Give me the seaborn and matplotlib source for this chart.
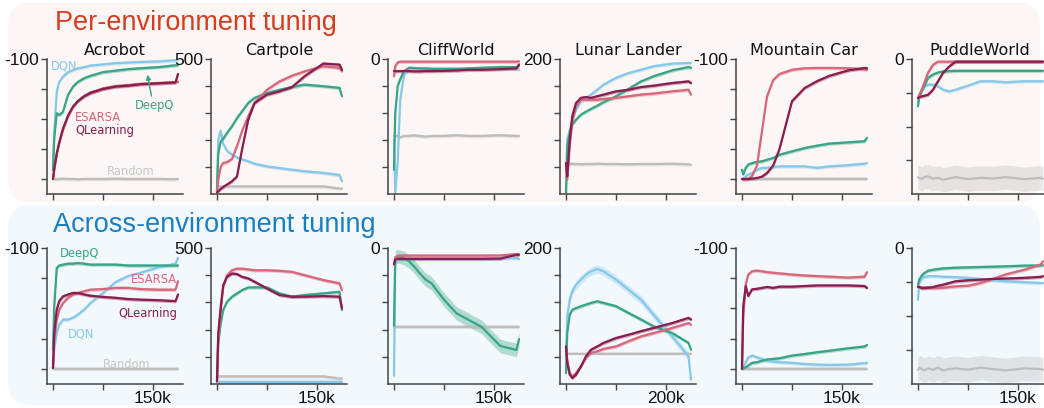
import matplotlib
matplotlib.use("Agg")
import matplotlib.pyplot as plt
from matplotlib.patches import FancyBboxPatch
import numpy as np
import seaborn as sns

FRAC = [0, .01, .03, .05, .08, .12, .16, .20, .25, .30, .40, .50, .60, .70, .85, .98, 1.0]

ENVS = ["Acrobot", "Cartpole", "CliffWorld", "Lunar Lander", "Mountain Car", "PuddleWorld"]
RUN_STEPS = [187500, 187500, 187500, 250000, 187500, 187500]
XTICK_STEP = [75000, 75000, 75000, 100000, 75000, 75000]
XTICK_LABEL = ["150k", "150k", "150k", "200k", "150k", "150k"]
YTICKS = [
    [-500, -400, -300, -200, -100],
    [100, 200, 300, 400, 500],
    [-80, -60, -40, -20, 0],
    [-200, -100, 0, 100, 200],
    [-500, -400, -300, -200, -100],
    [-300, -200, -100, 0],
]
YTOP_LABEL = ["-100", "500", "0", "200", "-100", "0"]
YLIMS = [(-550, -100), (0, 500), (-100, 0), (-300, 200), (-550, -100), (-400, 0)]

METHODS = ["Random", "DQN", "DeepQ", "ESARSA", "QLearning"]
COLORS = {
    "Random": "#bdbdbd",
    "DQN": "#86c8e8",
    "DeepQ": "#37a486",
    "ESARSA": "#d8667b",
    "QLearning": "#8a1c4e",
}

# ---- per-environment tuning ----
PER_ACROBOT = {
    "DQN": [-464, -342, -209, -176, -159, -144, -137, -131, -127, -122, -118, -114, -112, -110, -108, -104, -102],
    "DeepQ": [-470, -364, -281, -287, -276, -220, -192, -176, -164, -156, -144, -139, -134, -131, -127, -121, -120],
    "ESARSA": [-500, -470, -420, -381, -337, -292, -259, -240, -223, -212, -198, -190, -187, -183, -180, -177, -176],
    "QLearning": [-500, -466, -414, -378, -332, -289, -259, -240, -224, -213, -200, -192, -189, -184, -181, -178, -150],
    "Random": [-500, -501, -500, -500, -499, -500, -500, -501, -500, -500, -500, -499, -500, -500, -500, -501, -500],
}
PER_CARTPOLE = {
    "DQN": [10, 200, 235, 185, 160, 145, 135, 128, 121, 112, 102, 96, 90, 84, 78, 70, 47],
    "DeepQ": [16, 150, 195, 205, 226, 251, 281, 306, 337, 356, 374, 386, 396, 405, 399, 393, 362],
    "ESARSA": [6, 53, 102, 115, 118, 130, 177, 232, 288, 337, 386, 417, 438, 454, 473, 467, 454],
    "QLearning": [6, 10, 19, 26, 35, 47, 65, 164, 275, 337, 368, 380, 396, 436, 483, 479, 460],
    "Random": [28, 28, 28, 28, 28, 28, 28, 28, 28, 28, 28, 28, 28, 28, 28, 20, 20],
}
PER_CLIFF = {
    "DQN": [-60, -100, -75, -30, -12, -7, -7, -7, -7, -7, -7, -7, -7, -7, -7, -7, -8],
    "DeepQ": [-82, -40, -20, -15, -9, -6.5, -6.7, -7, -7, -7.5, -7.5, -7.5, -7, -6.5, -6, -6, -5],
    "ESARSA": [-12.8, -5.4, -2.5, -2, -2, -2, -2, -2, -2, -2, -2, -2, -2, -2, -2, -2, -1.7],
    "QLearning": [-9, -9, -9, -9, -9, -9, -9.2, -9.2, -9, -9, -8.8, -8.5, -8, -8, -7.5, -7, -4],
    "Random": [-57, -57, -57, -58, -57, -57, -56.5, -57, -57.5, -57, -57, -56.5, -57, -57, -56.5, -57, -57],
}
PER_LUNAR = {
    "DQN": [-296, -99, -62, -25, 12, 43, 56, 68, 86, 105, 130, 148, 160, 173, 183, 185, 185],
    "DeepQ": [-296, -123, -74, -43, -25, -6, 5, 15, 27, 40, 62, 89, 117, 136, 158, 170, 167],
    "ESARSA": [-185, -247, -123, -37, 25, 49, 49, 49, 49, 52, 56, 62, 68, 72, 80, 86, 68],
    "QLearning": [-185, -235, -99, -12, 37, 56, 59, 56, 62, 68, 80, 86, 96, 101, 111, 117, 111],
    "Random": [-189, -189, -189, -188, -189, -190, -189, -189, -188, -189, -189, -190, -189, -189, -188, -190, -192],
}
PER_MOUNTAIN = {
    "DQN": [-500, -498, -491, -485, -480, -469, -463, -463, -460, -458, -458, -458, -463, -458, -454, -449, -447],
    "DeepQ": [-469, -485, -463, -452, -447, -443, -441, -436, -430, -419, -408, -397, -389, -382, -378, -374, -363],
    "ESARSA": [-500, -500, -500, -500, -490, -455, -340, -225, -170, -150, -136, -131, -130, -130, -131, -134, -136],
    "QLearning": [-500, -500, -500, -500, -499, -497, -492, -480, -455, -400, -241, -197, -174, -156, -138, -130, -131],
    "Random": [-500, -500, -500, -500, -500, -500, -500, -500, -500, -500, -500, -500, -500, -500, -500, -500, -500],
}
PER_PUDDLE = {
    "DQN": [-130, -110, -91, -81, -76, -76, -81, -91, -96, -91, -79, -66, -66, -69, -66, -66, -66],
    "DeepQ": [-140, -111, -96, -81, -56, -46, -40, -37, -36, -35, -35, -35, -35, -35, -35, -35, -35],
    "ESARSA": [-116, -106, -91, -71, -41, -17, -8, -8, -8, -8, -8, -8, -8, -8, -8, -8, -8],
    "QLearning": [-116, -113, -111, -109, -106, -91, -66, -41, -22, -8, -8, -8, -8, -8, -8, -8, -8],
    "Random": [-350, -352, -356, -350, -348, -355, -352, -358, -354, -350, -356, -352, -354, -350, -356, -352, -355],
}

# ---- across-environment tuning ----
ACROSS_ACROBOT = {
    "DQN": [-497, -436, -381, -353, -337, -337, -331, -320, -304, -282, -249, -213, -193, -182, -163, -152, -133],
    "DeepQ": [-436, -293, -166, -158, -155, -152, -152, -150, -152, -155, -155, -155, -158, -158, -158, -158, -158],
    "ESARSA": [-497, -403, -337, -304, -282, -265, -254, -249, -243, -238, -236, -232, -232, -236, -238, -238, -210],
    "QLearning": [-497, -381, -304, -276, -260, -254, -249, -249, -254, -258, -262, -265, -269, -271, -273, -276, -254],
    "Random": [-500, -500, -500, -500, -500, -500, -500, -500, -500, -500, -500, -500, -500, -500, -500, -500, -500],
}
ACROSS_CARTPOLE = {
    "DQN": [7, 7, 7, 7, 7, 7, 7, 7, 7, 7, 7, 7, 7, 7, 7, 7, 7],
    "DeepQ": [16, 150, 223, 272, 302, 321, 333, 345, 355, 355, 355, 333, 321, 327, 333, 339, 272],
    "ESARSA": [10, 162, 272, 357, 400, 418, 424, 424, 421, 418, 418, 416, 412, 400, 382, 370, 345],
    "QLearning": [10, 187, 284, 363, 394, 406, 404, 394, 388, 376, 351, 327, 321, 321, 323, 321, 278],
    "Random": [28, 28, 28, 28, 28, 28, 28, 28, 28, 28, 28, 28, 28, 28, 28, 20, 20],
}
ACROSS_CLIFF = {
    "DQN": [-94, -10, -8.6, -8, -7.5, -7.5, -7.5, -7.5, -7.5, -7.5, -7.5, -7.5, -7.5, -7.5, -7.5, -7.5, -8],
    "DeepQ": [-57, -7, -6, -6.5, -7.4, -9.8, -13.5, -18, -23, -26, -38, -48, -53, -58, -72, -75, -67],
    "ESARSA": [-12, -7, -5.8, -5.6, -5.6, -5.6, -5.6, -5.6, -5.6, -5.6, -5.6, -5.6, -5.6, -5.6, -5.5, -4.5, -4.5],
    "QLearning": [-12, -8.6, -8, -8, -8, -8, -8, -8, -8, -8, -8, -8, -8, -8, -7.8, -5, -5],
    "Random": [-58, -58, -58, -58, -58, -58, -58, -58, -58, -58, -58, -58, -58, -58, -58, -58, -58],
}
ACROSS_LUNAR = {
    "DQN": [-198, -51, 10, 41, 65, 84, 102, 114, 123, 114, 84, 47, 10, -45, -125, -198, -284],
    "DeepQ": [-260, -113, -45, -27, -21, -14, -8, -2, 4, -2, -14, -39, -63, -88, -113, -149, -174],
    "ESARSA": [-162, -211, -260, -272, -260, -235, -204, -186, -180, -171, -162, -143, -125, -113, -94, -76, -82],
    "QLearning": [-162, -223, -266, -278, -266, -235, -198, -174, -162, -149, -131, -119, -106, -94, -76, -57, -63],
    "Random": [-188, -188, -188, -188, -188, -188, -188, -188, -188, -188, -188, -188, -188, -188, -188, -188, -188],
}
ACROSS_MOUNTAIN = {
    "DQN": [-500, -495, -478, -462, -456, -462, -467, -473, -476, -478, -480, -484, -486, -487, -486, -481, -480],
    "DeepQ": [-500, -498, -495, -489, -480, -478, -473, -469, -467, -465, -456, -451, -445, -440, -432, -426, -421],
    "ESARSA": [-500, -325, -221, -188, -177, -175, -177, -180, -182, -184, -188, -191, -193, -195, -198, -195, -180],
    "QLearning": [-500, -292, -226, -259, -237, -235, -232, -229, -232, -228, -228, -226, -224, -224, -224, -226, -232],
    "Random": [-500, -500, -500, -500, -500, -500, -500, -500, -500, -500, -500, -500, -500, -500, -500, -500, -500],
}
ACROSS_PUDDLE = {
    "DQN": [-152, -103, -91, -85, -83, -83, -83, -85, -85, -86, -88, -91, -95, -98, -101, -103, -103],
    "DeepQ": [-108, -93, -81, -74, -67, -64, -62, -60, -59, -58, -57, -56, -55, -54, -52, -51, -51],
    "ESARSA": [-111, -115, -116, -116, -116, -118, -118, -117, -115, -113, -111, -103, -91, -78, -64, -49, -39],
    "QLearning": [-115, -115, -118, -118, -117, -115, -111, -108, -103, -98, -95, -93, -91, -90, -88, -85, -83],
    "Random": [-358, -352, -356, -360, -354, -358, -352, -360, -356, -354, -358, -352, -356, -360, -354, -356, -358],
}

PER = [PER_ACROBOT, PER_CARTPOLE, PER_CLIFF, PER_LUNAR, PER_MOUNTAIN, PER_PUDDLE]
ACROSS = [ACROSS_ACROBOT, ACROSS_CARTPOLE, ACROSS_CLIFF, ACROSS_LUNAR, ACROSS_MOUNTAIN, ACROSS_PUDDLE]

# curves whose shaded band is much wider than the rest (fraction of y range)
WIDE_BAND = {
    (0, "PuddleWorld", "Random"): 0.09,
    (1, "PuddleWorld", "Random"): 0.09,
    (1, "CliffWorld", "DeepQ"): 0.05,
    (1, "Lunar Lander", "DQN"): 0.03,
}

W, H = 1044, 408
LEFTS = [47, 211, 388, 560, 736, 912]
AX_W = 136
ROW_TOP = [59, 248]
ROW_H = [135, 136]

sns.set_theme(style="ticks")
plt.rcParams["font.family"] = ["DejaVu Sans"]
TICK_FONT = "Liberation Sans"

fig = plt.figure(figsize=(W / 100, H / 100), dpi=100)

# rounded background panels (pixel coordinates, origin bottom-left)
for (x0, top, bot, fc) in [(8, 3, 202, "#fcf6f5"), (8, 205, 405, "#f3f8fd")]:
    box = FancyBboxPatch((x0, H - bot), 1032, bot - top,
                         boxstyle="round,pad=0,rounding_size=22",
                         transform=None, facecolor=fc, edgecolor="none", zorder=-5)
    fig.patches.append(box)

fig.text(55 / W, 1 - 30 / H, "Per-environment tuning", fontsize=19.5,
         color="#d63c1e", family="Liberation Sans", va="baseline")
fig.text(53 / W, 1 - 232 / H, "Across-environment tuning", fontsize=19.5,
         color="#1a7fc1", family="Liberation Sans", va="baseline")

for row, panels in enumerate([PER, ACROSS]):
    for col, env in enumerate(ENVS):
        top = ROW_TOP[row]
        h = ROW_H[row]
        ax = fig.add_axes([LEFTS[col] / W, (H - top - h) / H, AX_W / W, h / H])
        ax.patch.set_alpha(0)
        steps = np.array(FRAC) * RUN_STEPS[col]
        lo, hi = YLIMS[col]
        data = panels[col]
        for m in METHODS:
            vals = np.array(data[m], dtype=float)
            band = WIDE_BAND.get((row, env, m), 0.013) * (hi - lo)
            ax.fill_between(steps, vals - band, vals + band, color=COLORS[m],
                            alpha=0.35, lw=0)
            sns.lineplot(x=steps, y=vals, color=COLORS[m], lw=1.6, ax=ax)

        px = XTICK_STEP[col] / 50.0
        ax.set_xlim(-6 * px, (AX_W - 6) * px)
        ax.set_ylim(lo, hi)
        ax.set_xticks([0, XTICK_STEP[col], 2 * XTICK_STEP[col]])
        if row == 1:
            ax.set_xticklabels(["", "", XTICK_LABEL[col]])
        else:
            ax.set_xticklabels(["", "", ""])
        yt = YTICKS[col]
        ax.set_yticks(yt)
        ax.set_yticklabels([""] * (len(yt) - 1) + [YTOP_LABEL[col]])
        ax.set_xlabel("")
        ax.set_ylabel("")
        for lab in ax.get_xticklabels() + ax.get_yticklabels():
            lab.set_family(TICK_FONT)
            lab.set_fontsize(12.5)
            lab.set_color("#111111")
        ax.tick_params(axis="both", direction="out", length=4.5, width=1,
                       color="#444444", pad=1)
        ax.tick_params(axis="x", length=4, pad=1)
        for s in ["left", "bottom"]:
            ax.spines[s].set_color("#444444")
            ax.spines[s].set_linewidth(1.1)
        sns.despine(ax=ax)
        if row == 0:
            ax.set_title(env, fontsize=11.5, pad=3, color="#111111")

        if col == 0:
            # inline method labels on the Acrobot panels
            kw = dict(transform=ax.transAxes, fontsize=8.3, va="center")
            if row == 0:
                ax.text(0.03, 0.948, "DQN", color=COLORS["DQN"], ha="left", **kw)
                ax.text(0.794, 0.652, "DeepQ", color=COLORS["DeepQ"], ha="center", **kw)
                ax.text(0.206, 0.563, "ESARSA", color=COLORS["ESARSA"], ha="left", **kw)
                ax.text(0.206, 0.467, "QLearning", color=COLORS["QLearning"], ha="left", **kw)
                ax.text(0.441, 0.163, "Random", color="#c6c6c6", ha="left", **kw)
                ax.annotate("", xy=(0.735, 0.904), xytext=(0.772, 0.705),
                            xycoords="axes fraction", textcoords="axes fraction",
                            arrowprops=dict(arrowstyle="-|>", color=COLORS["DeepQ"],
                                            lw=1.0, mutation_scale=7))
            else:
                ax.text(0.096, 0.956, "DeepQ", color=COLORS["DeepQ"], ha="left", **kw)
                ax.text(0.956, 0.772, "ESARSA", color=COLORS["ESARSA"], ha="right", **kw)
                ax.text(0.956, 0.515, "QLearning", color=COLORS["QLearning"], ha="right", **kw)
                ax.text(0.154, 0.368, "DQN", color=COLORS["DQN"], ha="left", **kw)
                ax.text(0.412, 0.147, "Random", color="#c6c6c6", ha="left", **kw)

fig.savefig("out.png", dpi=100)
